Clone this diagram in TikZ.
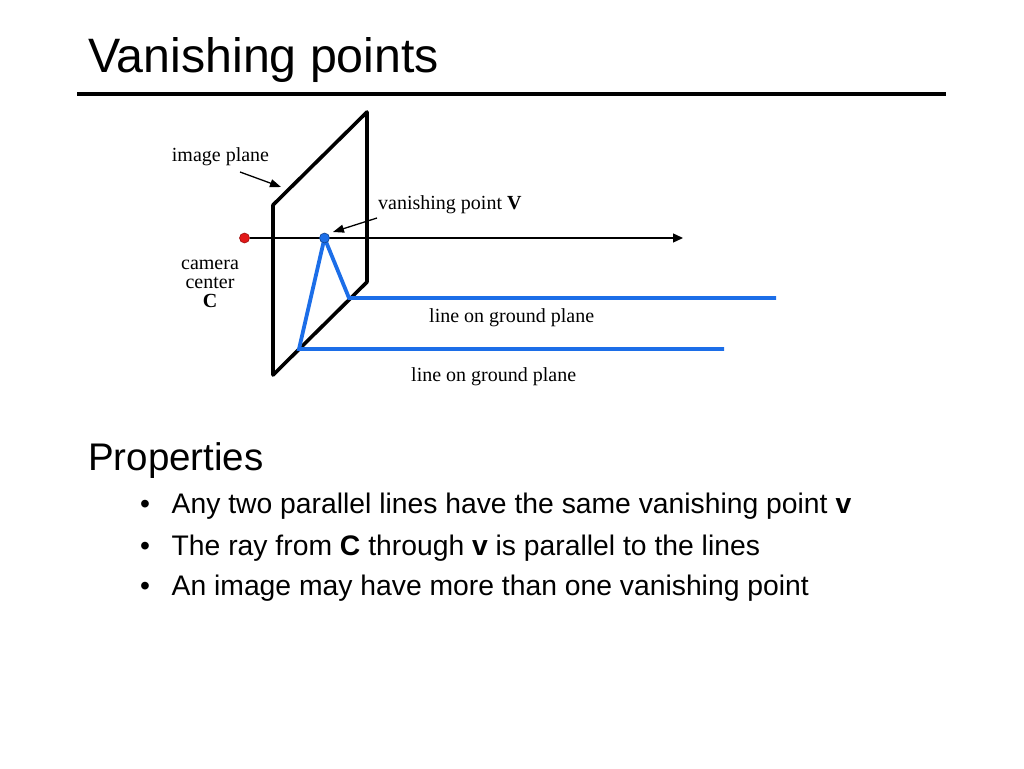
\documentclass[tikz,border=0pt]{standalone}
\usepackage{fontspec}
\setmainfont{Liberation Serif}
\newfontfamily\slidefont{Liberation Sans}
\usetikzlibrary{arrows.meta}
\definecolor{groundblue}{RGB}{28,110,232}
\definecolor{camred}{RGB}{226,24,24}
\begin{document}
\begin{tikzpicture}[
			x=1pt, y=-1pt,
			lbl/.style={font=\fontsize{20}{19}\selectfont, inner sep=0pt},
			slide/.style={font=\slidefont, inner sep=0pt, anchor=base west},
			plane/.style={line width=3.6pt, line join=round},
			gline/.style={groundblue, line width=3.8pt},
			pointer/.style={line width=1.3pt, -{Triangle[length=11pt,width=8pt]}},
			dot/.style={circle, inner sep=0pt, minimum size=10pt, line width=0.6pt}
		]
		\useasboundingbox (0,0) rectangle (1024,768);
		% title and rule
		\node[slide, font=\slidefont\fontsize{48.3}{50}\selectfont] (title) at (88,72) {Vanishing points};
		\draw[line width=4pt] (77,94) -- (946,94);
		% image plane
		\coordinate (p1) at (273,205);
		\coordinate (p2) at (367,112);
		\coordinate (p3) at (367,282);
		\coordinate (p4) at (273,375);
		\draw[plane] (p1) -- (p2) -- (p3) -- (p4) -- cycle;
		% ray through the vanishing point
		\node[dot] (cam) at (244.5,238) {};
		\node[dot] (vp) at (324.5,238) {};
		\coordinate (rayend) at (683,238);
		\draw[line width=1.3pt, -{Triangle[length=10pt,width=9pt]}] (cam) -- (rayend);
		\node[dot, draw=camred!70!black, fill=camred] at (cam) {};
		% lines on the ground plane
		\coordinate (g1a) at (349,298);
		\coordinate (g1b) at (776,298);
		\coordinate (g2a) at (299,349);
		\coordinate (g2b) at (724,349);
		\draw[gline] (vp.center) -- (g1a) -- (g1b);
		\draw[gline] (vp.center) -- (g2a) -- (g2b);
		\node[dot, draw=groundblue!60!black, fill=groundblue] at (vp) {};
		% labels
		\node[lbl, anchor=base] (ipl) at (220.5,161.5) {image plane};
		\coordinate (iptip) at (281,187);
		\draw[pointer] (240,172) -- (iptip);
		\node[lbl, anchor=base west] (vpl) at (378,209.5) {vanishing point \textbf{V}};
		\coordinate (vptip) at (333,232);
		\draw[pointer] (377,218) -- (vptip);
		\node[lbl, anchor=base, align=center] (caml) at (210,307.5) {camera\\center\\\textbf{C}};
		\node[lbl, anchor=base west] (gl1) at (429,322.5) {line on ground plane};
		\node[lbl, anchor=base west] (gl2) at (411,381.5) {line on ground plane};
		% properties
		\node[slide, font=\slidefont\fontsize{38.5}{40}\selectfont] (prop) at (88,470) {Properties};
		\foreach \y/\txt in {513/{Any two parallel lines have the same vanishing point \textbf{v}},
				555/{The ray from \textbf{C} through \textbf{v} is parallel to the lines},
				595/{An image may have more than one vanishing point}} {
			\node[slide, font=\slidefont\fontsize{28.3}{30}\selectfont] at (140,\y) {\textbullet};
			\node[slide, font=\slidefont\fontsize{28.3}{30}\selectfont] at (171.5,\y) {\txt};
		}
\end{tikzpicture}
\end{document}
